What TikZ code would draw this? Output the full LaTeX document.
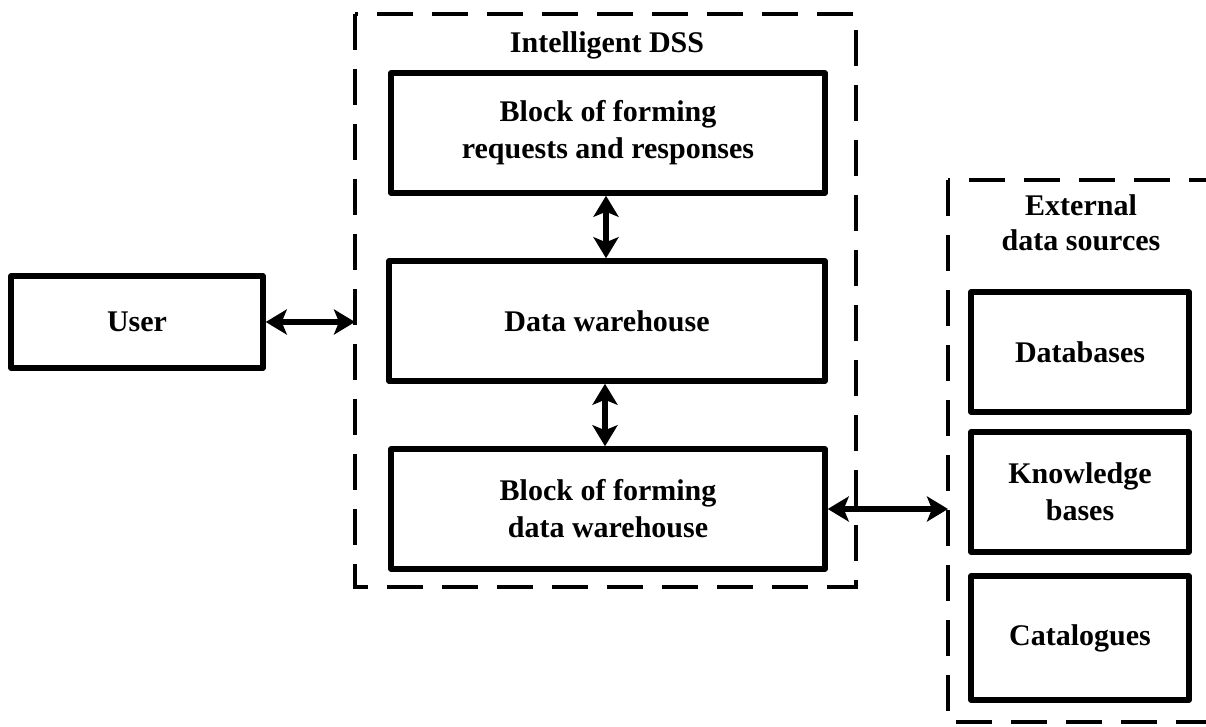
\documentclass[tikz,border=0pt]{standalone}
\usepackage{fontspec}
\setmainfont{Liberation Serif}
\usetikzlibrary{arrows.meta}
\tikzset{
  blk/.style={draw, line width=5.5pt, line join=round, minimum width=218pt, minimum height=120pt,
    align=center, inner sep=0pt, font=\fontsize{30}{37}\selectfont\bfseries},
  dashbox/.style={draw, line width=4pt, dash pattern=on 36pt off 19pt},
  lbl/.style={align=center, inner sep=0pt, font=\fontsize{30}{35}\selectfont\bfseries},
  dbl/.style={line width=5.5pt, {Stealth[length=21pt,width=25pt,inset=5pt]}-{Stealth[length=21pt,width=25pt,inset=5pt]}}
}
\begin{document}
\begin{tikzpicture}[x=1pt,y=-1pt]
\useasboundingbox (0,0) rectangle (1206,727);
\clip (0,0) rectangle (1206,727);
\fill[white] (0,0) rectangle (1206,727);
% dashed containers
\draw[dashbox] (355,14) rectangle (856,587);
\draw[dashbox] (948,180) rectangle (1232,722);
\node[lbl] (dsst) at (607,45) {Intelligent DSS};
\node[lbl] (extt) at (1081,223) {External\\data sources};
% DSS blocks
\node[blk, minimum width=434pt] (b1) at (608,133) {Block of forming\\requests and responses};
\node[blk, minimum width=436pt] (dw) at (607,321) {Data warehouse};
\node[blk, minimum width=434pt] (b3) at (608,509) {Block of forming\\data warehouse};
% user
\node[blk, minimum width=252pt, minimum height=92pt] (user) at (137,322) {User};
% external sources
\node[blk] (db) at (1080,352) {Databases};
\node[blk] (kb) at (1080,492) {Knowledge\\bases};
\node[blk, minimum height=124pt] (cat) at (1080,638) {Catalogues};
% connectors
\coordinate (dssL) at (355,322);
\coordinate (extL) at (948,509);
\draw[dbl] (user.east) -- (dssL);
\draw[dbl] ([xshift=-2pt]b1.south) -- ([xshift=-2pt]b1.south |- dw.north);
\draw[dbl] ([xshift=-2pt]dw.south) -- ([xshift=-2pt]dw.south |- b3.north);
\draw[dbl] (b3.east) -- (extL);
\end{tikzpicture}
\end{document}
